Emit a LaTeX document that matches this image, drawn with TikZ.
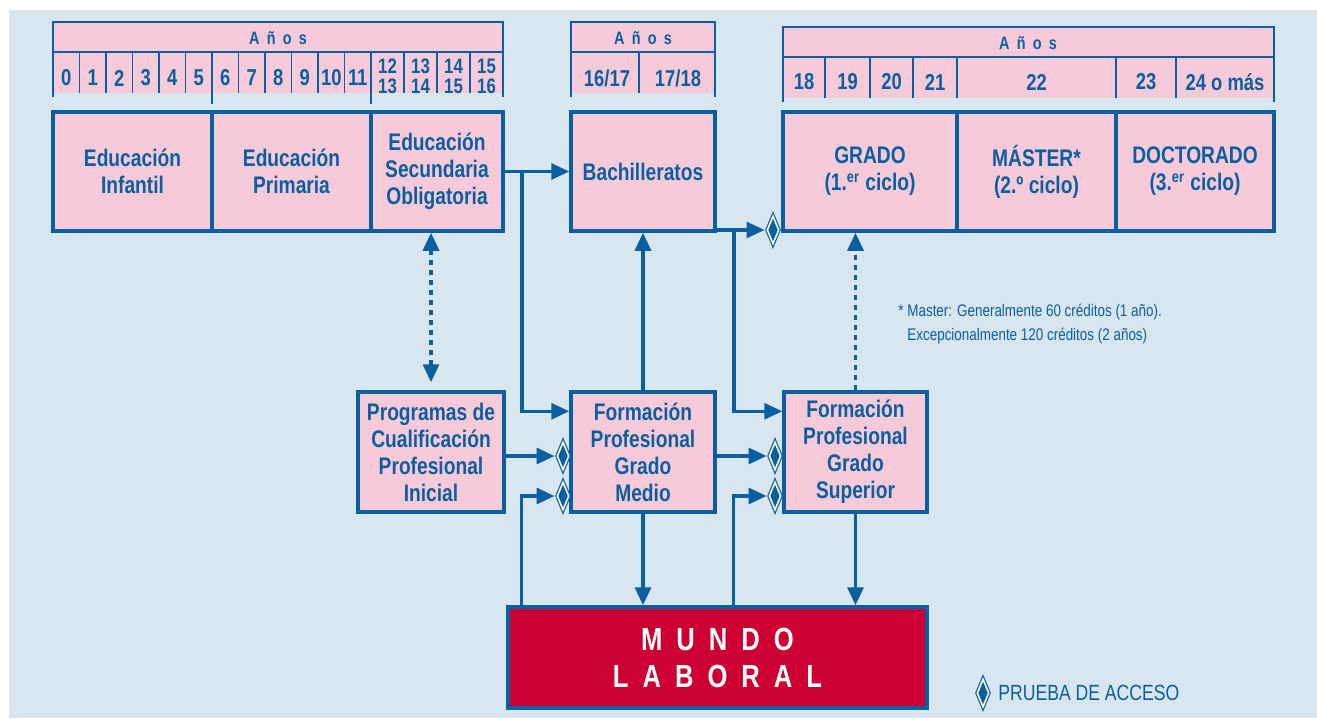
\documentclass[tikz,border=0pt]{standalone}
\usepackage{fontspec}
\setmainfont{Liberation Sans}[FakeStretch=0.8]
\usetikzlibrary{arrows.meta,shapes.geometric,calc,positioning}
\definecolor{azul}{HTML}{0A5FA0}
\definecolor{rosa}{HTML}{F6CAD8}
\definecolor{fondo}{HTML}{D8E6F0}
\definecolor{rojo}{HTML}{CC0033}
\tikzset{
	>={Triangle[length=9pt,width=8pt]},
	etapa/.style={draw=azul, fill=rosa, line width=1.75pt, text=azul, align=center, inner sep=0pt,
		font=\fontsize{12}{13.5}\selectfont\bfseries},
	flecha/.style={->, draw=azul, line width=1.6pt},
	punteada/.style={flecha, dash pattern=on 2.5pt off 2.5pt},
	acceso/.style={diamond, draw=azul, fill=azul, double=white, double distance=0.8pt, line width=0.6pt,
		minimum width=6.5pt, minimum height=14.5pt, inner sep=0pt, outer sep=1pt},
	tabla/.style={draw=azul, line width=1.2pt},
	fina/.style={draw=azul, line width=0.7pt},
	anyo/.style={text=azul, font=\fontsize{11.5}{12}\selectfont\bfseries},
	anyodos/.style={text=azul, align=center, font=\fontsize{10.5}{10}\selectfont\bfseries},
	titulo/.style={text=azul, font=\fontsize{9}{10}\selectfont\bfseries},
	nota/.style={text=azul, align=left, inner sep=0pt, font=\fontsize{8.4}{12}\selectfont},
}
\newcommand{\esp}{\hspace{7pt}}
\newcommand{\espa}{\hspace{3.6pt}}

\begin{document}
\begin{tikzpicture}[x=0.5pt, y=-0.5pt]
	\useasboundingbox (0,0) rectangle (1317,718);
	\fill[fondo] (9,10) rectangle (1317,718);

	% tabla de edades 0 - 16
	\fill[rosa] (53,22) rectangle (503,93);
	\draw[tabla] (53,97) -- (53,22) -- (503,22) -- (503,97) (53,52) -- (503,52);
	\foreach \i in {1,...,11}
		\draw[fina] ({53+26.5*\i},52) -- ({53+26.5*\i},93);
	\foreach \x in {404,437,470}
		\draw[fina] (\x,52) -- (\x,93);
	\draw[fina] (212,52) -- (212,104) (371,52) -- (371,104);
	\node[titulo] (t1) at (278,38) {A\espa ñ\espa o\espa s};
	\foreach \n in {0,...,11}
		\node[anyo] (e\n) at ({53+26.5*(\n+0.5)},78) {\n};
	\foreach \a/\b [count=\k] in {12/13,13/14,14/15,15/16}
		\node[anyodos] (d\k) at ({371+33*(\k-0.5)},76) {\a\\\b};

	% tabla de bachillerato
	\fill[rosa] (571,22) rectangle (715,93);
	\draw[tabla] (571,97) -- (571,22) -- (715,22) -- (715,97) (571,52) -- (715,52);
	\draw[fina] (639,52) -- (639,93);
	\node[titulo] (t2) at (643,38) {A\espa ñ\espa o\espa s};
	\node[anyo] (b1) at (607,78) {16/17};
	\node[anyo] (b2) at (678,78) {17/18};

	% tabla universitaria
	\fill[rosa] (783,27) rectangle (1274,98);
	\draw[tabla] (783,102) -- (783,27) -- (1274,27) -- (1274,102) (783,57) -- (1274,57);
	\foreach \x in {825,870,913,957,1116,1176}
		\draw[fina] (\x,57) -- (\x,98);
	\node[titulo] (t3) at (1028,43) {A\espa ñ\espa o\espa s};
	\foreach \x/\t [count=\k] in {804/18,847.5/19,891.5/20,935/21,1036.5/22,1146/23,1225/24 o más}
		\node[anyo] (u\k) at (\x,82) {\t};

	% etapas
	\node[etapa, minimum width=79.5pt, minimum height=59.5pt] (inf) at (132.5,171.5) {Educación\\Infantil};
	\node[etapa, minimum width=79.5pt, minimum height=59.5pt] (pri) at (291.5,171.5) {Educación\\Primaria};
	\node[etapa, minimum width=66pt, minimum height=59.5pt] (eso) at (437,171.5) {Educación\\Secundaria\\Obligatoria};
	\node[etapa, minimum width=72pt, minimum height=59.5pt] (bach) at (643,171.5) {Bachilleratos};
	\node[etapa, minimum width=87pt, minimum height=59.5pt] (grado) at (870,171.5) {GRADO\\(1.\textsuperscript{er} ciclo)};
	\node[etapa, minimum width=79.5pt, minimum height=59.5pt] (master) at (1036.5,171.5) {MÁSTER*\\(2.º ciclo)};
	\node[etapa, minimum width=79pt, minimum height=59.5pt] (doct) at (1195,171.5) {DOCTORADO\\(3.\textsuperscript{er} ciclo)};
	\node[etapa, minimum width=73pt, minimum height=60pt] (pcpi) at (431,452) {Programas de\\Cualificación\\Profesional\\Inicial};
	\node[etapa, minimum width=72pt, minimum height=60pt] (fpgm) at (643,452) {Formación\\Profesional\\Grado\\Medio};
	\node[etapa, minimum width=71.5pt, minimum height=60pt] (fpgs) at (855.5,452) {Formación\\Profesional\\Grado\\Superior};
	\node[etapa, fill=rojo, text=white, minimum width=209.5pt, minimum height=50.5pt,
		font=\fontsize{16}{18.5}\selectfont\bfseries] (mundo) at (717.5,657.5)
		{M\esp U\esp N\esp D\esp O\\L\esp A\esp B\esp O\esp R\esp A\esp L};

	% pruebas de acceso
	\node[acceso] (dg) at (773,230) {};
	\node[acceso] (dm1) at (563,456) {};
	\node[acceso] (dm2) at (563,496) {};
	\node[acceso] (ds1) at (775,456) {};
	\node[acceso] (ds2) at (775,496) {};

	\coordinate (j1) at (522,171.5);
	\coordinate (j2) at (734,230);
	\draw[flecha] (eso) -- (bach);
	\draw[flecha] (j1) |- ($(fpgm.north west)+(0,21)$);
	\draw[flecha] (fpgm) -- (bach);
	\draw[flecha] (bach.east |- dg) -- (dg);
	\draw[flecha] (j2) |- ($(fpgs.north west)+(0,21)$);
	\draw[punteada] (fpgs.north) -- (fpgs.north |- grado.south);
	\draw[punteada, <->, shorten <=4pt] (pcpi.north) -- (pcpi.north |- eso.south);
	\draw[flecha] (pcpi.east |- dm1) -- (dm1);
	\draw[flecha] ($(mundo.north west)+(15,0)$) |- (dm2);
	\draw[flecha] (fpgm.east |- ds1) -- (ds1);
	\draw[flecha] ($(mundo.north west)+(227,0)$) |- (ds2);
	\draw[flecha] (fpgm.south) -- (fpgm.south |- mundo.north);
	\draw[flecha] (fpgs.south) -- (fpgs.south |- mundo.north);

	% notas
	\node[nota, anchor=west] (nota) at (898,324)
		{* Master: Generalmente 60 créditos (1 año).\\\hspace*{4.5pt}Excepcionalmente 120 créditos (2 años)};
	\node[acceso] (dl) at (983,693) {};
	\node[nota, anchor=west, font=\fontsize{11}{13}\selectfont] (leyenda) at (998,693) {PRUEBA DE ACCESO};
\end{tikzpicture}
\end{document}
